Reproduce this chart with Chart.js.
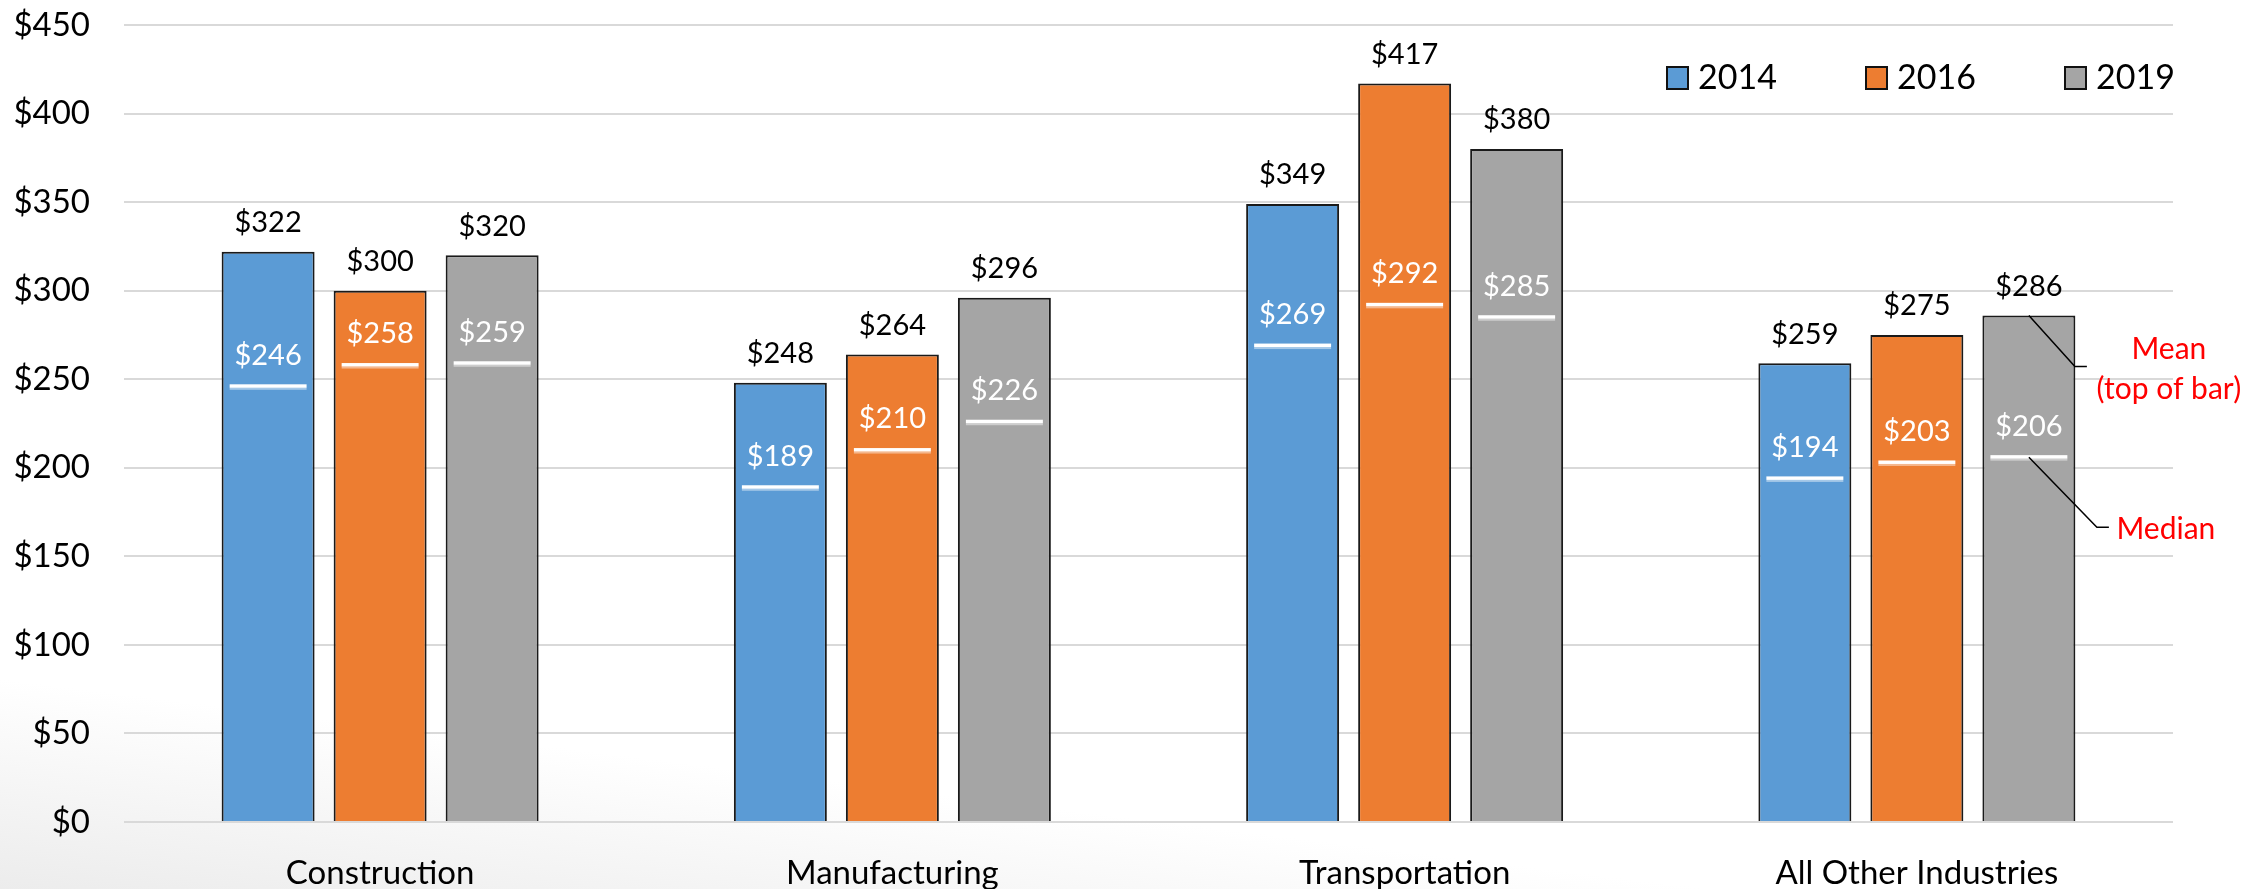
<!DOCTYPE html>
<html>
<head>
<meta charset="utf-8">
<script src="https://cdn.jsdelivr.net/npm/chart.js@4.4.1/dist/chart.umd.min.js"></script>
<style>
  html, body { margin: 0; padding: 0; }
  body { width: 2267px; height: 889px; background: linear-gradient(187deg, #ffffff 82%, #ececec 100%); }
  .wrap { position: relative; width: 2267px; height: 889px; }
</style>
</head>
<body>
<div class="wrap"><canvas id="myChart"></canvas></div>
<script>
// data
const industries = ["Construction", "Manufacturing", "Transportation", "All Other Industries"];
const years = ["2014", "2016", "2019"];
const mean2014 = [322, 248, 349, 259];
const mean2016 = [300, 264, 417, 275];
const mean2019 = [320, 296, 380, 286];
const median2014 = [246, 189, 269, 194];
const median2016 = [258, 210, 292, 203];
const median2019 = [259, 226, 285, 206];
const yTicks = [0, 50, 100, 150, 200, 250, 300, 350, 400, 450];

const colors = ["#5B9BD5", "#ED7D31", "#A5A5A5"];
const means = [mean2014, mean2016, mean2019];
const medians = [median2014, median2016, median2019];
const FONT = "Lato";

function money(v) {
  return "$" + v;
}

// mean labels on top, median line + label inside each bar
const barLabels = {
  id: "barLabels",
  afterDatasetsDraw(chart) {
    const ctx = chart.ctx;
    const y = chart.scales.y;
    ctx.save();
    ctx.textAlign = "center";
    ctx.textBaseline = "middle";
    ctx.font = "29px " + FONT;
    chart.data.datasets.forEach((ds, i) => {
      const meta = chart.getDatasetMeta(i);
      meta.data.forEach((bar, j) => {
        ctx.fillStyle = "#000";
        ctx.fillText(money(means[i][j]), bar.x, bar.y - 29);

        const my = y.getPixelForValue(medians[i][j]);
        const half = bar.width / 2 - 8;
        ctx.fillStyle = "#ffffff";
        ctx.fillRect(bar.x - half, my - 2, half * 2, 3.5);
        ctx.fillStyle = "rgba(255,255,255,0.45)";
        ctx.fillRect(bar.x - half, my + 1.5, half * 2, 2);
        ctx.fillStyle = "#ffffff";
        ctx.fillText(money(medians[i][j]), bar.x, my - 31);
      });
    });
    ctx.restore();
  }
};

// legend inside the plot, top right
const cornerLegend = {
  id: "cornerLegend",
  afterDraw(chart) {
    const ctx = chart.ctx;
    const area = chart.chartArea;
    ctx.save();
    ctx.font = "34px " + FONT;
    ctx.textBaseline = "middle";
    ctx.textAlign = "left";
    chart.data.datasets.forEach((ds, i) => {
      const bx = area.right - 506 + i * 199;
      const by = 67;
      ctx.fillStyle = ds.backgroundColor;
      ctx.fillRect(bx, by, 21, 22);
      ctx.strokeStyle = "#111";
      ctx.lineWidth = 2;
      ctx.strokeRect(bx, by, 21, 22);
      ctx.fillStyle = "#000";
      ctx.fillText(ds.label, bx + 31, by + 11);
    });
    ctx.restore();
  }
};

// "Mean" / "Median" callouts on the last bar
const callouts = {
  id: "callouts",
  afterDraw(chart) {
    const ctx = chart.ctx;
    const y = chart.scales.y;
    const last = chart.data.datasets.length - 1;
    const n = industries.length - 1;
    const bar = chart.getDatasetMeta(last).data[n];
    const meanY = y.getPixelForValue(means[last][n]);
    const medY = y.getPixelForValue(medians[last][n]);
    ctx.save();
    ctx.strokeStyle = "#000";
    ctx.lineWidth = 1.5;
    ctx.beginPath();
    ctx.moveTo(bar.x, meanY);
    ctx.lineTo(bar.x + 46, meanY + 51);
    ctx.lineTo(bar.x + 58, meanY + 51);
    ctx.moveTo(bar.x, medY);
    ctx.lineTo(bar.x + 68, medY + 70);
    ctx.lineTo(bar.x + 80, medY + 70);
    ctx.stroke();

    ctx.fillStyle = "#FF0000";
    ctx.font = "30px " + FONT;
    ctx.textAlign = "center";
    ctx.textBaseline = "middle";
    ctx.fillText("Mean", bar.x + 140, meanY + 34);
    ctx.fillText("(top of bar)", bar.x + 140, meanY + 74);
    ctx.fillText("Median", bar.x + 137, medY + 72);
    ctx.restore();
  }
};

const config = {
  type: "bar",
  data: {
    labels: industries,
    datasets: years.map((yr, i) => ({
      label: yr,
      data: means[i],
      backgroundColor: colors[i],
      borderColor: "#1a1a1a",
      borderWidth: 2,
      categoryPercentage: 0.656,
      barPercentage: 0.83
    }))
  },
  options: {
    responsive: true,
    maintainAspectRatio: false,
    animation: false,
    layout: { padding: { top: 25, right: 94, left: 0, bottom: 0 } },
    plugins: {
      legend: { display: false },
      tooltip: { enabled: false }
    },
    scales: {
      x: {
        grid: { display: false },
        border: { display: false },
        ticks: { color: "#000", font: { family: FONT, size: 33 }, padding: 24 },
        afterFit(scale) { scale.height = 67; }
      },
      y: {
        min: 0,
        max: 450,
        afterBuildTicks(scale) { scale.ticks = yTicks.map(v => ({ value: v })); },
        grid: { color: "#d9d9d9", lineWidth: 2, drawTicks: false },
        border: { display: false },
        ticks: { color: "#000", font: { family: FONT, size: 33 }, padding: 34, callback: v => money(v) },
        afterFit(scale) {
          scale.width = 124;
          scale.paddingTop = 0;
          scale.paddingBottom = 0;
        }
      }
    }
  },
  plugins: [barLabels, cornerLegend, callouts]
};

new Chart(document.getElementById("myChart"), config);
</script>
</body>
</html>
